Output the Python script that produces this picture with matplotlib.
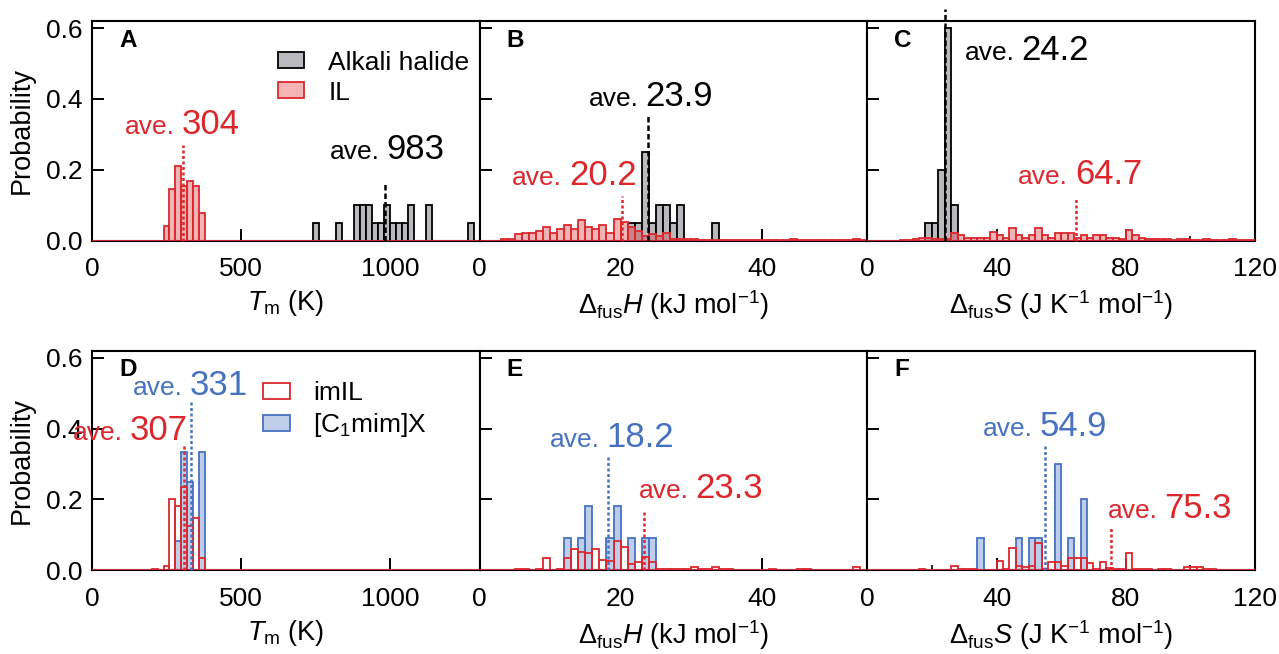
import numpy as np
import matplotlib
matplotlib.use('Agg')
import matplotlib.pyplot as plt
from matplotlib.colors import to_rgba
from matplotlib.patches import Patch
from matplotlib.offsetbox import TextArea, HPacker, AnnotationBbox

plt.rcParams['font.family'] = ['Liberation Sans', 'DejaVu Sans']
plt.rcParams['mathtext.fontset'] = 'custom'
plt.rcParams['mathtext.rm'] = 'Liberation Sans'
plt.rcParams['mathtext.it'] = 'Liberation Sans:italic'
plt.rcParams['mathtext.bf'] = 'Liberation Sans:bold'

RED = '#DC282D'
BLUE = '#4672C1'
GRAY = '#B9B9BE'

# ---- data (probabilities) ----
# melting point, 20 K bins (left edges)
ah_tm_left = [740, 820, 880, 900, 920, 940, 960, 980, 1000, 1020, 1040, 1060, 1120, 1260]
ah_tm_prob = [0.05, 0.05, 0.1, 0.1, 0.1, 0.05, 0.05, 0.1, 0.05, 0.05, 0.05, 0.1, 0.1, 0.05]
il_tm_left = [240, 260, 280, 300, 320, 340, 360]
il_tm_prob = [0.04, 0.147, 0.21, 0.155, 0.168, 0.155, 0.077]
imil_tm_left = [200, 240, 260, 280, 300, 320, 340, 360]
imil_tm_prob = [0.005, 0.012, 0.2, 0.18, 0.234, 0.126, 0.147, 0.036]
c1_tm_left = [280, 300, 320, 360]
c1_tm_prob = [0.083, 0.333, 0.25, 0.333]

# enthalpy of fusion, 1 kJ/mol bins
ah_h_left = [21, 22, 23, 24, 25, 26, 27, 28, 33]
ah_h_prob = [0.05, 0.05, 0.25, 0.05, 0.1, 0.1, 0.05, 0.1, 0.05]
il_h_prob = [0, 0, 0, 0.005, 0.005, 0.019, 0.022, 0.022, 0.026, 0.038,
             0.022, 0.033, 0.045, 0.033, 0.057, 0.038, 0.033, 0.045, 0.022, 0.061,
             0.054, 0.038, 0.028, 0.014, 0.019, 0.012, 0.022, 0.005, 0.004, 0.004,
             0.004, 0.002, 0.002, 0.002, 0.002, 0.002, 0.002, 0.001, 0.001, 0.001,
             0.001, 0.001, 0.001, 0.001, 0.005, 0.003, 0.001, 0.001, 0.001, 0.001,
             0.001, 0.001, 0.001, 0.005, 0.003]
c1_h_left = [12, 14, 15, 18, 19, 21, 23, 24]
c1_h_prob = [0.091, 0.091, 0.182, 0.091, 0.182, 0.091, 0.091, 0.091]
imil_h_prob = [0, 0, 0, 0, 0, 0.003, 0.003, 0, 0.003, 0.035,
               0, 0.003, 0.035, 0.06, 0.052, 0.048, 0.06, 0.029, 0.026, 0.084,
               0.067, 0.019, 0.022, 0.038, 0.022, 0.003, 0.003, 0.003, 0.003, 0.003,
               0.01, 0.003, 0.003, 0.01, 0.003, 0.003, 0, 0, 0, 0,
               0, 0.003, 0, 0, 0, 0.003, 0.003, 0, 0, 0,
               0, 0, 0, 0.01, 0]

# entropy of fusion, 2 J/K/mol bins
ah_s_left = [18, 20, 22, 24, 26]
ah_s_prob = [0.05, 0.05, 0.2, 0.6, 0.1]
il_s_prob = [0, 0, 0, 0, 0, 0.002, 0.003, 0.005, 0.008, 0.008,
             0.005, 0.005, 0.005, 0.022, 0.015, 0.008, 0.008, 0.008, 0.008, 0.024,
             0.015, 0.008, 0.036, 0.015, 0.008, 0.015, 0.036, 0.015, 0.008, 0.022,
             0.022, 0.022, 0.008, 0.015, 0.008, 0.015, 0.015, 0.008, 0.008, 0.005,
             0.029, 0.015, 0.008, 0.005, 0.004, 0.005, 0.004, 0.003, 0.004, 0.005,
             0.003, 0.003, 0.004, 0.002, 0.003, 0.003, 0.004, 0.002, 0.003, 0.003]
c1_s_left = [34, 46, 50, 52, 58, 62, 66]
c1_s_prob = [0.09, 0.09, 0.09, 0.09, 0.3, 0.09, 0.2]
imil_s_prob = [0, 0, 0, 0, 0, 0, 0, 0, 0.003, 0.002,
               0.002, 0.002, 0.002, 0.012, 0.003, 0.003, 0.003, 0.002, 0.002, 0.002,
               0.025, 0.005, 0.064, 0.012, 0.008, 0.012, 0.076, 0.005, 0.023, 0.023,
               0.012, 0.036, 0.036, 0.036, 0.02, 0.005, 0.023, 0.007, 0.005, 0.005,
               0.05, 0.005, 0.005, 0.005, 0.002, 0.005, 0.005, 0.002, 0.002, 0.01,
               0.01, 0.01, 0.005, 0.005, 0.002, 0.002, 0, 0, 0, 0]

# averages: (value, text, colour)
averages = {
    'A': [(304, '304', RED), (983, '983', 'black')],
    'B': [(20.2, '20.2', RED), (23.9, '23.9', 'black')],
    'C': [(64.7, '64.7', RED), (24.2, '24.2', 'black')],
    'D': [(307, '307', RED), (331, '331', BLUE)],
    'E': [(23.3, '23.3', RED), (18.2, '18.2', BLUE)],
    'F': [(75.3, '75.3', RED), (54.9, '54.9', BLUE)],
}
# where the dotted line ends and where its label sits: (line top, label x, label bottom, x-align)
ave_layout = {
    'A': [(0.27, 304, 0.282, 0.5), (0.165, 990, 0.211, 0.5)],
    'B': [(0.126, 22.3, 0.136, 1.0), (0.357, 24.3, 0.361, 0.5)],
    'C': [(0.124, 65.9, 0.14, 0.5), (0.655, 30.2, 0.489, 0.0)],
    'D': [(0.35, 322, 0.348, 1.0), (0.477, 331, 0.476, 0.5)],
    'E': [(0.17, 22.6, 0.184, 0.0), (0.321, 18.8, 0.328, 0.5)],
    'F': [(0.123, 74.4, 0.127, 0.0), (0.354, 54.9, 0.36, 0.5)],
}


def full_bins(left, prob, lo, hi, width):
    edges = np.arange(lo, hi, width)
    h = np.zeros(len(edges))
    for l, p in zip(left, prob):
        h[int(round((l - lo) / width))] = p
    return edges, h


def draw_hist(ax, edges, h, width, face, edge):
    ax.bar(edges, h, width=width, align='edge', facecolor=face,
           edgecolor=edge, linewidth=1.3, zorder=3)


fig, axes = plt.subplots(2, 3, figsize=(12.79, 6.54), dpi=100)
fig.subplots_adjust(left=0.0719, right=0.9812, top=0.968, bottom=0.128,
                    wspace=0, hspace=0.5)

pink = to_rgba(RED, 0.35)
lblue = to_rgba(BLUE, 0.35)

# A
ax = axes[0, 0]
e, h = full_bins(ah_tm_left, ah_tm_prob, 0, 1300, 20)
draw_hist(ax, e, h, 20, GRAY, 'black')
e, h = full_bins(il_tm_left, il_tm_prob, 0, 1300, 20)
draw_hist(ax, e, h, 20, pink, RED)
# B
ax = axes[0, 1]
e, h = full_bins(ah_h_left, ah_h_prob, 0, 55, 1)
draw_hist(ax, e, h, 1, GRAY, 'black')
draw_hist(ax, np.arange(0, 55, 1), il_h_prob, 1, pink, RED)
# C
ax = axes[0, 2]
e, h = full_bins(ah_s_left, ah_s_prob, 0, 120, 2)
draw_hist(ax, e, h, 2, GRAY, 'black')
draw_hist(ax, np.arange(0, 120, 2), il_s_prob, 2, pink, RED)
# D
ax = axes[1, 0]
e, h = full_bins(c1_tm_left, c1_tm_prob, 0, 1300, 20)
draw_hist(ax, e, h, 20, lblue, BLUE)
e, h = full_bins(imil_tm_left, imil_tm_prob, 0, 1300, 20)
draw_hist(ax, e, h, 20, 'none', RED)
# E
ax = axes[1, 1]
e, h = full_bins(c1_h_left, c1_h_prob, 0, 55, 1)
draw_hist(ax, e, h, 1, lblue, BLUE)
draw_hist(ax, np.arange(0, 55, 1), imil_h_prob, 1, 'none', RED)
# F
ax = axes[1, 2]
e, h = full_bins(c1_s_left, c1_s_prob, 0, 120, 2)
draw_hist(ax, e, h, 2, lblue, BLUE)
draw_hist(ax, np.arange(0, 120, 2), imil_s_prob, 2, 'none', RED)

xlabels = [r'$T_\mathrm{m}$ (K)',
           r'$\Delta_\mathrm{fus}H$ (kJ mol$^{-1}$)',
           r'$\Delta_\mathrm{fus}S$ (J K$^{-1}$ mol$^{-1}$)']
xlims = [(0, 1300), (0, 55), (0, 120)]
xticks = [[0, 500, 1000], [0, 20, 40], [0, 40, 80, 120]]
letters = ['A', 'B', 'C', 'D', 'E', 'F']

for i in range(2):
    for j in range(3):
        ax = axes[i, j]
        ax.set_xlim(*xlims[j])
        ax.set_ylim(0, 0.62)
        ax.set_xticks(xticks[j])
        if j == 2:
            ax.set_xticks([20, 60, 100], minor=True)
        ax.set_yticks([0, 0.2, 0.4, 0.6])
        ax.tick_params(which='major', direction='in', length=8.5, width=1.4,
                       labelsize=19, pad=7, top=False, right=False)
        ax.tick_params(which='minor', direction='in', length=3.5, width=1.2)
        ax.tick_params(axis='x', pad=12)
        if j == 0:
            ax.yaxis.set_major_formatter(matplotlib.ticker.FormatStrFormatter('%.1f'))
            ax.set_ylabel('Probability', fontsize=19.5, labelpad=8)
        else:
            ax.set_yticklabels([])
        ax.set_xlabel(xlabels[j], fontsize=19.5, labelpad=5)
        for s in ax.spines.values():
            s.set_linewidth(1.5)
        letter = letters[i * 3 + j]
        ax.text(0.07, 0.965, letter, transform=ax.transAxes, fontsize=17.5,
                fontweight='bold', va='top', ha='left', zorder=6)
        for (val, txt, col), (ytop, lx, ly, al) in zip(averages[letter], ave_layout[letter]):
            ls = (0, (2.2, 1.2)) if col == 'black' else (0, (1.2, 1.0))
            ax.plot([val, val], [0, ytop], color=col, lw=1.8, linestyle=ls,
                    zorder=5, clip_on=False)
            box = HPacker(children=[TextArea('ave.', textprops=dict(size=19, color=col)),
                                    TextArea(txt, textprops=dict(size=25, color=col))],
                          align='baseline', pad=0, sep=5)
            ab = AnnotationBbox(box, (lx, ly), xycoords='data', box_alignment=(al, 0),
                                frameon=False, pad=0, annotation_clip=False, zorder=6)
            ax.add_artist(ab)

leg_kw = dict(frameon=False, fontsize=19, handlelength=1.0, handleheight=0.55,
              handletextpad=0.9, labelspacing=0.23, borderpad=0, borderaxespad=0,
              loc='upper left')
axes[0, 0].legend(handles=[Patch(facecolor=GRAY, edgecolor='black', lw=1.3, label='Alkali halide'),
                           Patch(facecolor=pink, edgecolor=RED, lw=1.3, label='IL')],
                  bbox_to_anchor=(0.48, 0.865), **leg_kw)
axes[1, 0].legend(handles=[Patch(facecolor='white', edgecolor=RED, lw=1.3, label='imIL'),
                           Patch(facecolor=lblue, edgecolor=BLUE, lw=1.3, label=r'[C$_1$mim]X')],
                  bbox_to_anchor=(0.442, 0.86), **leg_kw)

fig.savefig('out.png', dpi=100)
